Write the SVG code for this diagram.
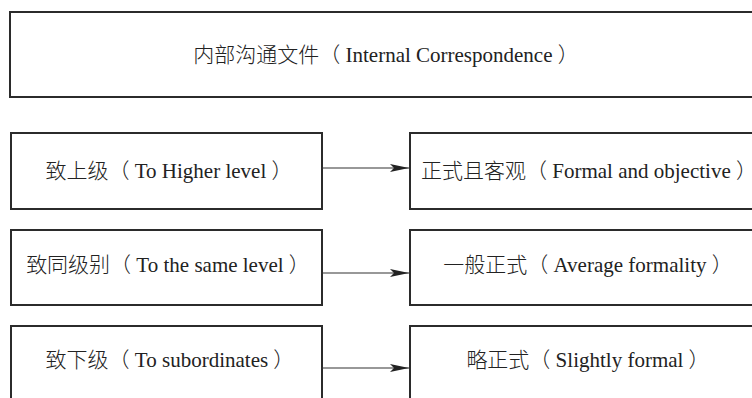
<svg xmlns="http://www.w3.org/2000/svg" width="752" height="398" viewBox="0 0 752 398">
<style>
.box{fill:#fff;stroke:#2b2b2b;stroke-width:2}
.t{font-family:"Liberation Serif","Noto Sans CJK SC",serif;font-size:21px;font-weight:300;fill:#222;text-anchor:middle}
.c{stroke:#333;stroke-width:1.2;fill:none;marker-end:url(#ah)}
</style>
<defs>
<marker id="ah" markerUnits="userSpaceOnUse" markerWidth="20" markerHeight="10" refX="19" refY="4" orient="auto">
<path d="M0,0 L19,4 L0,8 L4,4 Z" fill="#222"/>
</marker>
</defs>
<rect width="752" height="398" fill="#fff"/>
<g id="top">
<rect class="box" x="10" y="12" width="760" height="85"/>
<text class="t" x="386" y="62">内部沟通文件（ Internal Correspondence ）</text>
</g>
<g id="higher">
<rect class="box" x="11" y="133" width="311" height="76"/>
<text class="t" x="169" y="178">致上级（ To Higher level ）</text>
</g>
<g id="same">
<rect class="box" x="11" y="230" width="311" height="75"/>
<text class="t" x="168" y="272">致同级别（ To the same level ）</text>
</g>
<g id="lower">
<rect class="box" x="11" y="326" width="311" height="100"/>
<text class="t" x="170" y="367">致下级（ To subordinates ）</text>
</g>
<g id="formal">
<rect class="box" x="410" y="133" width="360" height="76"/>
<text class="t" x="589" y="178">正式且客观（ Formal and objective ）</text>
</g>
<g id="average">
<rect class="box" x="410" y="230" width="360" height="75"/>
<text class="t" x="588" y="272">一般正式（ Average formality ）</text>
</g>
<g id="slight">
<rect class="box" x="410" y="326" width="360" height="100"/>
<text class="t" x="588" y="367">略正式（ Slightly formal ）</text>
</g>
<g id="connectors">
<line class="c" x1="321" y1="168" x2="409" y2="168"/>
<line class="c" x1="321" y1="273" x2="409" y2="273"/>
<line class="c" x1="321" y1="368" x2="409" y2="368"/>
</g>
</svg>
